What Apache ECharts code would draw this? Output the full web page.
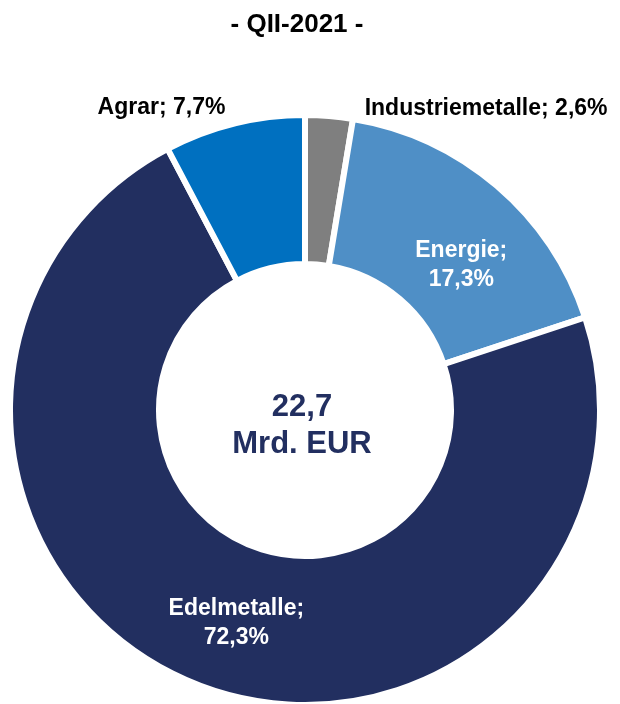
<!DOCTYPE html>
<html>
<head>
<meta charset="utf-8">
<script src="https://cdn.jsdelivr.net/npm/echarts@6/dist/echarts.min.js"></script>
<style>
  html, body { margin: 0; padding: 0; background: #fff; }
  #chart { width: 620px; height: 704px; }
</style>
</head>
<body>
<div id="chart"></div>
<script>
// Daten
var periodTitle = '- QII-2021 -';
var totalValue = '22,7';
var totalUnit = 'Mrd. EUR';
var categories = ['Industriemetalle', 'Energie', 'Edelmetalle', 'Agrar'];
var shares = [2.6, 17.3, 72.3, 7.7];
var colors = ['#7f7f7f', '#4f8fc6', '#222f60', '#0070c0'];
var insideLabel = [false, true, true, false]; // Beschriftung im Segment?

var font = '"Liberation Sans", Arial, sans-serif';

function fmt(v) {
  return v.toFixed(1).replace('.', ',') + '%';
}

// Label-Lage je Segment (aussen: Hilfslinie unsichtbar, innen: Verschiebung per padding / Leerzeile)
var labelTweaks = {
  Industriemetalle: { length: 7, length2: 30 },
  Agrar: { length: 16, length2: 0 },
  Energie: { padLeft: 22, gap: 50 },
  Edelmetalle: { padLeft: 30, gap: 12 }
};

var pieData = categories.map(function (name, i) {
  var t = labelTweaks[name];
  var item = {
    name: name,
    value: shares[i],
    itemStyle: { color: colors[i] }
  };
  if (insideLabel[i]) {
    item.label = {
      position: 'inside',
      color: '#fff',
      padding: [0, 0, 0, t.padLeft],
      rich: { gap: { fontSize: 1, lineHeight: t.gap } },
      formatter: '{gap| }\n' + name + ';\n' + fmt(shares[i])
    };
  } else {
    item.label = {
      position: 'outside',
      color: '#000',
      formatter: name + '; ' + fmt(shares[i])
    };
    item.labelLine = { show: false, length: t.length, length2: t.length2 };
  }
  return item;
});

var myChart = echarts.init(document.getElementById('chart'));
myChart.setOption({
  animation: false,
  title: [
    {
      text: periodTitle,
      left: 292,
      top: 7,
      textAlign: 'center',
      textStyle: { fontFamily: font, fontSize: 26, fontWeight: 'bold', color: '#000' }
    },
    {
      text: totalValue + '\n' + totalUnit,
      left: 297,
      top: 384,
      textAlign: 'center',
      textStyle: { fontFamily: font, fontSize: 31, fontWeight: 'bold', color: '#222f60', lineHeight: 37 }
    }
  ],
  series: [{
    type: 'pie',
    center: [305, 410],
    radius: [146, 295],
    startAngle: 90,
    clockwise: true,
    avoidLabelOverlap: false,
    itemStyle: { borderColor: '#fff', borderWidth: 6 },
    label: {
      fontFamily: font,
      fontSize: 23,
      fontWeight: 'bold',
      lineHeight: 29
    },
    labelLine: { show: false },
    emphasis: { disabled: true },
    data: pieData
  }]
});
</script>
</body>
</html>
